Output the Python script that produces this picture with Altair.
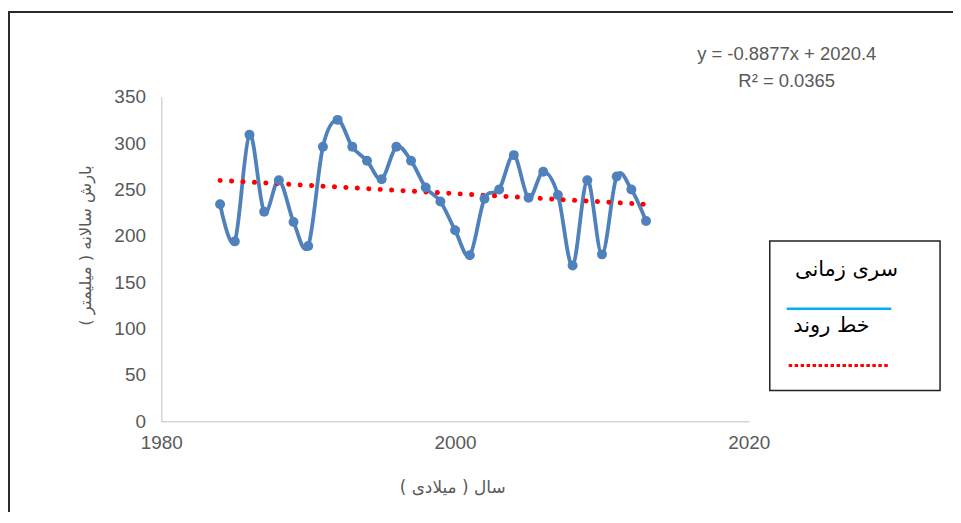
import altair as alt
import pandas as pd

years = list(range(1984, 2014))
rainfall = [234, 194, 309, 226, 260, 215, 189, 296, 325, 296,
            281, 261, 296, 281, 252, 237, 206, 179, 240, 250,
            287, 241, 269, 244, 168, 260, 180, 264, 250, 216]

x_ticks = [1980, 2000, 2020]
y_ticks = [0, 50, 100, 150, 200, 250, 300, 350]

equation_lines = ["y = -0.8877x + 2020.4", "R² = 0.0365"]
legend_labels = ["سری زمانی", "خط روند"]
x_title = "سال ( میلادی )"
y_title = "بارش سالانه ( میلیمتر )"

BLUE = "#4F81BD"
RED = "#FF0000"
CYAN = "#00B0F0"
GREY = "#595959"
NUM_FONT = "Liberation Sans"
FA_FONT = "DejaVu Sans"

df = pd.DataFrame({"year": years, "rain": rainfall})

W, H = 590, 326

x_enc = alt.X("year:Q", scale=alt.Scale(domain=[1980, 2020], nice=False, zero=False),
              axis=alt.Axis(values=x_ticks, format="d", grid=False, ticks=False, tickSize=0,
                            domainColor="#BFBFBF", labelFont=NUM_FONT, labelFontSize=19,
                            labelColor=GREY, labelPadding=12, title=x_title,
                            titleFont=FA_FONT, titleFontSize=17, titleFontWeight="normal",
                            titleColor=GREY, titleX=292, titleY=66, titleBaseline="middle",
                            titleAnchor="start", titleAlign="center", labelFlush=False))
y_enc = alt.Y("rain:Q", scale=alt.Scale(domain=[0, 350], nice=False),
              axis=alt.Axis(values=y_ticks, grid=False, ticks=False, tickSize=0,
                            domainColor="#BFBFBF", labelFont=NUM_FONT, labelFontSize=19,
                            labelColor=GREY, labelPadding=16, title=y_title,
                            titleFont=FA_FONT, titleFontSize=16.5, titleFontWeight="normal",
                            titleColor=GREY, titleAngle=-90, titleX=-76, titleY=149,
                            titleBaseline="middle", titleAlign="center", titleAnchor="start"))

base = alt.Chart(df)

series_line = base.mark_line(interpolate="cardinal", color=BLUE, strokeWidth=3.8).encode(x=x_enc, y=y_enc)
series_pts = base.mark_circle(color=BLUE, size=100, opacity=1).encode(x="year:Q", y="rain:Q")

trend = base.transform_regression("year", "rain").mark_line(
    color=RED, strokeWidth=5, strokeDash=[0.1, 11.4], strokeCap="round"
).encode(x="year:Q", y="rain:Q")

one = pd.DataFrame({"k": [0]})


def label(text, x, y, font, size, color):
    return alt.Chart(one).mark_text(text=text, font=font, fontSize=size, color=color,
                                    align="center", baseline="middle").encode(
        x=alt.value(x), y=alt.value(y))


eq1 = label(equation_lines[0], 628, -43, NUM_FONT, 18.5, GREY)
eq2 = label(equation_lines[1], 628, -16, NUM_FONT, 18.5, GREY)

legend_box = alt.Chart(one).mark_rect(fill="white", stroke="#222222", strokeWidth=1.5).encode(
    x=alt.value(611), x2=alt.value(782), y=alt.value(145), y2=alt.value(295))
leg1 = label(legend_labels[0], 688, 174, FA_FONT, 21, "black")
leg2 = label(legend_labels[1], 673, 230, FA_FONT, 21, "black")
leg_cyan = alt.Chart(one).mark_rule(color=CYAN, strokeWidth=2.5).encode(
    x=alt.value(628), x2=alt.value(733), y=alt.value(213))
leg_red = alt.Chart(one).mark_rule(color=RED, strokeWidth=3, strokeDash=[3.5, 2.5]).encode(
    x=alt.value(630), x2=alt.value(731), y=alt.value(270))

border_left = alt.Chart(one).mark_rule(color="#2a2a2a", strokeWidth=2).encode(
    x=alt.value(-153), y=alt.value(-85), y2=alt.value(440))
border_top = alt.Chart(one).mark_rule(color="#2a2a2a", strokeWidth=2).encode(
    x=alt.value(-154), x2=alt.value(820), y=alt.value(-85))

chart = alt.layer(
    border_left, border_top, series_line, trend, series_pts, eq1, eq2,
    legend_box, leg1, leg2, leg_cyan, leg_red
).properties(
    width=W, height=H,
    background="white",
    autosize=alt.AutoSizeParams(type="none"),
    padding={"left": 154, "top": 88, "right": 205, "bottom": 90},
).configure_view(strokeWidth=0, stroke=None)

chart.save("out.html", embed_options={"renderer": "svg", "actions": False})
